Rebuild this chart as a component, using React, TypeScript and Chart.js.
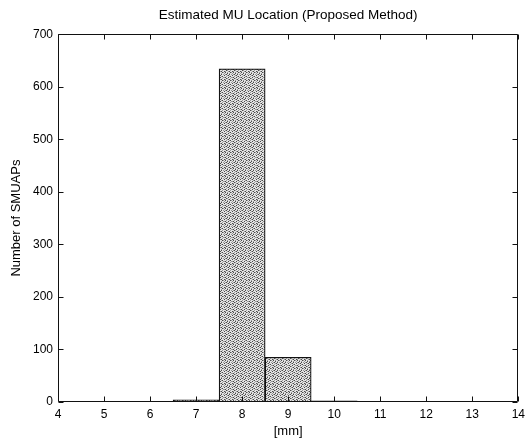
import React, { useEffect, useRef } from "react";
import { Chart, registerables } from "chart.js";

Chart.register(...registerables);

const binCenters = [4, 5, 6, 7, 8, 9, 10, 11, 12, 13, 14];
const counts = [0, 0, 0, 4, 634, 85, 2, 0, 0, 0, 0];
const yTicks = [0, 100, 200, 300, 400, 500, 600, 700];
const chartTitle = "Estimated MU Location (Proposed Method)";
const xLabel = "[mm]";
const yLabel = "Number of SMUAPs";

const FONT = "'Liberation Sans', Arial, Helvetica, sans-serif";

const stippleMask = [
  "LDLMLLDM",
  "MLLDLMLL",
  "LMDLLDLM",
  "DLLMDLLL",
  "LLMLLMDL",
  "MDLLDLLM",
  "LLDMLLML",
  "DMLLMDLL",
];

function makePattern(): CanvasPattern | string {
  const pc = document.createElement("canvas");
  pc.width = 8;
  pc.height = 8;
  const c = pc.getContext("2d");
  if (!c) return "#ababab";
  const colors: Record<string, string> = { D: "#4a4a4a", M: "#9a9a9a", L: "#e4e4e4" };
  stippleMask.forEach((row, r) => {
    row.split("").forEach((ch, k) => {
      c.fillStyle = colors[ch];
      c.fillRect(k, r, 1, 1);
    });
  });
  const ctx2 = document.createElement("canvas").getContext("2d");
  const p = ctx2 ? ctx2.createPattern(pc, "repeat") : null;
  return p || "#ababab";
}

const boxTicksPlugin = {
  id: "boxTicks",
  afterDatasetsDraw(chart: any) {
    const { ctx, chartArea: a, scales } = chart;
    const x = scales.x, y = scales.y;
    const L = Math.round(a.left) + 0.5, R = Math.round(a.right) - 0.5;
    const T = Math.round(a.top) + 0.5, B = Math.round(a.bottom) - 0.5;
    ctx.save();
    ctx.strokeStyle = "#111";
    ctx.lineWidth = 1;
    ctx.beginPath();
    ctx.rect(L, T, R - L, B - T);
    const tl = 5;
    x.ticks.forEach((t: any) => {
      const px = Math.round(x.getPixelForValue(t.value)) + 0.5;
      ctx.moveTo(px, B); ctx.lineTo(px, B - tl);
      ctx.moveTo(px, T); ctx.lineTo(px, T + tl);
    });
    y.ticks.forEach((t: any) => {
      const py = Math.round(y.getPixelForValue(t.value)) + 0.5;
      ctx.moveTo(L, py); ctx.lineTo(L + tl, py);
      ctx.moveTo(R, py); ctx.lineTo(R - tl, py);
    });
    ctx.stroke();
    ctx.restore();
  },
};

export default function App() {
  const ref = useRef<HTMLCanvasElement>(null);
  useEffect(() => {
    document.body.style.margin = "0";
    if (!ref.current) return;
    const pattern = makePattern();
    const chart = new Chart(ref.current, {
      type: "bar",
      data: {
        datasets: [
          {
            data: binCenters.map((x, i) => ({ x, y: counts[i] })),
            backgroundColor: pattern as any,
            borderColor: "#111",
            borderWidth: 1.2,
            barPercentage: 1,
            categoryPercentage: 1,
            grouped: false,
          } as any,
        ],
      },
      options: {
        animation: false,
        responsive: true,
        maintainAspectRatio: false,
        layout: { padding: { left: 0, right: 7, top: 0, bottom: 0 } },
        plugins: {
          legend: { display: false },
          tooltip: { enabled: false },
          title: {
            display: true,
            fullSize: false,
            text: chartTitle,
            color: "#000",
            font: { family: FONT, size: 13.5, weight: "normal" },
            padding: { top: 7, bottom: 11 },
          },
        },
        scales: {
          x: {
            type: "linear",
            min: 4,
            max: 14,
            offset: false,
            grid: { display: false, drawTicks: false, tickLength: 0 },
            border: { display: false },
            afterBuildTicks: (s: any) => {
              s.ticks = binCenters.map((v) => ({ value: v }));
            },
            ticks: {
              stepSize: 1,
              color: "#000",
              padding: 5,
              maxRotation: 0,
              font: { family: FONT, size: 12 },
            },
            title: {
              display: true,
              text: xLabel,
              color: "#000",
              font: { family: FONT, size: 13, lineHeight: 1.0 },
              padding: { top: 0, bottom: 0 },
            },
            afterFit: (s: any) => {
              s.height = 36;
            },
          },
          y: {
            type: "linear",
            min: 0,
            max: 700,
            grid: { display: false, drawTicks: false, tickLength: 0 },
            border: { display: false },
            afterBuildTicks: (s: any) => {
              s.ticks = yTicks.map((v) => ({ value: v }));
            },
            ticks: {
              color: "#000",
              padding: 5,
              font: { family: FONT, size: 12 },
            },
            title: {
              display: true,
              text: yLabel,
              color: "#000",
              font: { family: FONT, size: 13 },
              padding: { top: 9, bottom: 0 },
            },
            afterFit: (s: any) => {
              s.width = 58;
            },
          },
        },
      },
      plugins: [boxTicksPlugin],
    });
    return () => chart.destroy();
  }, []);
  return (
    <div style={{ width: 530, height: 438, position: "relative" }}>
      <canvas ref={ref} />
    </div>
  );
}
